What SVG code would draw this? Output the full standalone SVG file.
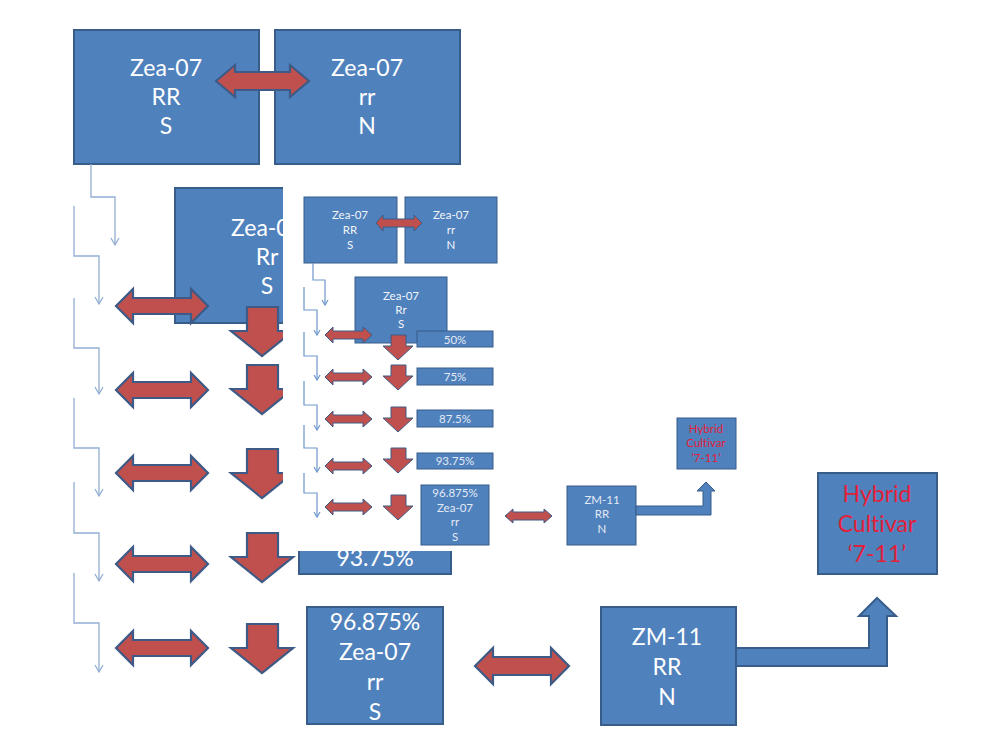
<svg xmlns="http://www.w3.org/2000/svg" width="1000" height="749" viewBox="0 0 1000 749">
<style>
.box{fill:#4F81BD;stroke:#385D8A;stroke-width:2}
.sbox{fill:#4F81BD;stroke:#385D8A;stroke-width:1}
.red{fill:#C0504D;stroke:#3E5A86;stroke-width:2.2;stroke-linejoin:miter}
.sred{fill:#C0504D;stroke:#3E5A86;stroke-width:1}
.blue{fill:#4F81BD;stroke:#385D8A;stroke-width:2}
.sblue{fill:#4F81BD;stroke:#385D8A;stroke-width:1}
text{font-variant-ligatures:none}
.t{font-family:Lato,"Open Sans","Liberation Sans",sans-serif;fill:#FFFFFF;text-anchor:middle;font-size:23px}
.st{font-family:Lato,"Open Sans","Liberation Sans",sans-serif;fill:#F2F5FA;text-anchor:middle;font-size:11.5px}
.pt{font-family:Lato,"Open Sans","Liberation Sans",sans-serif;fill:#E3EAF5;text-anchor:middle;font-size:11.5px}
.hy{fill:#E3203A}
.ln{fill:none;stroke:#93AED3;stroke-width:1.3;marker-end:url(#oa)}
.sln{fill:none;stroke:#6F97CC;stroke-width:1.2;marker-end:url(#soa)}
</style>
<defs>
<marker id="oa" markerWidth="10" markerHeight="10" refX="8" refY="5" orient="auto" markerUnits="userSpaceOnUse">
<path d="M1,1 L8,5 L1,9" fill="none" stroke="#93AED3" stroke-width="1.3"/>
</marker>
<marker id="soa" markerWidth="8" markerHeight="8" refX="6" refY="4" orient="auto" markerUnits="userSpaceOnUse">
<path d="M1,1 L6,4 L1,7" fill="none" stroke="#6F97CC" stroke-width="1.2"/>
</marker>
<path id="bdbl" d="M0,0 L17,-17 L17,-8 L75,-8 L75,-17 L92,0 L75,17 L75,8 L17,8 L17,17 Z"/>
<path id="bdown" d="M-15,0 H16 V24 H31 L0,49 L-31,24 H-15 Z"/>
<path id="sdbl" d="M0,0 L8,-8 L8,-4 L38,-4 L38,-8 L47,0 L38,8 L38,4 L8,4 L8,8 Z"/>
<path id="sdown" d="M-7,0 H8 V11 H15 L0,25 L-15,11 H-7 Z"/>
</defs>
<rect width="1000" height="749" fill="#FFFFFF"/>

<!-- Large diagram -->
<g id="big-parent-RR">
<rect class="box" x="74" y="30" width="185" height="134"/>
<text class="t" x="166" y="76">Zea-07</text>
<text class="t" x="166" y="105">RR</text>
<text class="t" x="166" y="134">S</text>
</g>
<g id="big-parent-rr">
<rect class="box" x="275" y="30" width="185" height="134"/>
<text class="t" x="367" y="76">Zea-07</text>
<text class="t" x="367" y="105">rr</text>
<text class="t" x="367" y="134">N</text>
</g>
<g id="big-F1-Rr">
<rect class="box" x="175" y="188" width="185" height="135"/>
<text class="t" x="267" y="236">Zea-07</text>
<text class="t" x="267" y="265">Rr</text>
<text class="t" x="267" y="294">S</text>
</g>
<g id="big-93">
<rect class="box" x="299" y="540" width="152" height="34"/>
<text class="t" x="375" y="566">93.75%</text>
</g>
<g id="big-96">
<rect class="box" x="307" y="607" width="136" height="117"/>
<text class="t" x="375" y="630">96.875%</text>
<text class="t" x="375" y="660">Zea-07</text>
<text class="t" x="375" y="690">rr</text>
<text class="t" x="375" y="720">S</text>
</g>
<g id="big-ZM11">
<rect class="box" x="601" y="607" width="135" height="118"/>
<text class="t" x="667" y="645">ZM-11</text>
<text class="t" x="667" y="675">RR</text>
<text class="t" x="667" y="705">N</text>
</g>
<g id="big-hybrid">
<rect class="box" x="818" y="473" width="119" height="101"/>
<text class="t hy" x="877" y="502">Hybrid</text>
<text class="t hy" x="877" y="532">Cultivar</text>
<text class="t hy" x="877" y="562">‘7-11’</text>
</g>

<g id="big-connectors">
<path class="red" d="M216,81 L235,65 L235,72 L290,72 L290,65 L309,81 L290,97 L290,90 L235,90 L235,97 Z"/>
<path class="ln" d="M91,164 V197 H115 V245"/>
<path class="ln" d="M74,206 V256 H99 V304"/>
<path class="ln" d="M74,298 V348 H99 V394"/>
<path class="ln" d="M74,398 V448 H99 V496"/>
<path class="ln" d="M74,482 V533 H99 V581"/>
<path class="ln" d="M74,573 V623 H99 V672"/>
<use href="#bdbl" class="red" x="116" y="306"/>
<use href="#bdbl" class="red" x="116" y="390"/>
<use href="#bdbl" class="red" x="116" y="473"/>
<use href="#bdbl" class="red" x="116" y="564"/>
<use href="#bdbl" class="red" x="116" y="648"/>
<use href="#bdown" class="red" x="262" y="307"/>
<use href="#bdown" class="red" x="262" y="365"/>
<use href="#bdown" class="red" x="262" y="449"/>
<use href="#bdown" class="red" x="262" y="533"/>
<use href="#bdown" class="red" x="262" y="624"/>
<path class="red" d="M475,666 L493,648 L493,657 L551,657 L551,648 L569,666 L551,684 L551,675 L493,675 L493,684 Z"/>
<path class="blue" d="M736,648 H869 V616 H859 L877,598 L896,616 H887 V666 H736 Z"/>
</g>

<!-- White overlay holding the small copy -->
<rect id="overlay" x="283" y="172" width="480" height="379" fill="#FFFFFF"/>

<!-- Small diagram -->
<g id="small-parent-RR">
<rect class="sbox" x="304" y="197" width="93" height="66"/>
<text class="st" x="350" y="219">Zea-07</text>
<text class="st" x="350" y="234">RR</text>
<text class="st" x="350" y="249">S</text>
</g>
<g id="small-parent-rr">
<rect class="sbox" x="405" y="197" width="92" height="66"/>
<text class="st" x="451" y="219">Zea-07</text>
<text class="st" x="451" y="234">rr</text>
<text class="st" x="451" y="249">N</text>
</g>
<g id="small-F1-Rr">
<rect class="sbox" x="355" y="277" width="92" height="66"/>
<text class="st" x="401" y="300">Zea-07</text>
<text class="st" x="401" y="314">Rr</text>
<text class="st" x="401" y="328">S</text>
</g>
<g id="small-50">
<rect class="sbox" x="417" y="331" width="76" height="16"/>
<text class="pt" x="455" y="343.5">50%</text>
</g>
<g id="small-75">
<rect class="sbox" x="417" y="368" width="76" height="17"/>
<text class="pt" x="455" y="380.5">75%</text>
</g>
<g id="small-87">
<rect class="sbox" x="417" y="410" width="76" height="17"/>
<text class="pt" x="455" y="422.5">87.5%</text>
</g>
<g id="small-93">
<rect class="sbox" x="417" y="453" width="76" height="16"/>
<text class="pt" x="455" y="465">93.75%</text>
</g>
<g id="small-96">
<rect class="sbox" x="421" y="485" width="68" height="60"/>
<text class="pt" x="455" y="497">96.875%</text>
<text class="pt" x="455" y="512">Zea-07</text>
<text class="pt" x="455" y="526">rr</text>
<text class="pt" x="455" y="541">S</text>
</g>
<g id="small-ZM11">
<rect class="sbox" x="567" y="486" width="69" height="59"/>
<text class="pt" x="602" y="504">ZM-11</text>
<text class="pt" x="602" y="518">RR</text>
<text class="pt" x="602" y="533">N</text>
</g>
<g id="small-hybrid">
<rect class="sbox" x="677" y="418" width="59" height="51"/>
<text class="pt hy" x="706" y="433">Hybrid</text>
<text class="pt hy" x="706" y="447">Cultivar</text>
<text class="pt hy" x="706" y="462">‘7-11’</text>
</g>

<g id="small-connectors">
<path class="sred" d="M376,223 L383,215 L383,219 L414,219 L414,215 L422,223 L414,231 L414,227 L383,227 L383,231 Z"/>
<path class="sln" d="M313,263 V280 H325 V305"/>
<path class="sln" d="M304,287 V310 H317 V335"/>
<path class="sln" d="M304,332 V356 H317 V380"/>
<path class="sln" d="M304,381 V405 H317 V430"/>
<path class="sln" d="M304,425 V448 H317 V472"/>
<path class="sln" d="M304,473 V493 H317 V517"/>
<use href="#sdbl" class="sred" x="325" y="335"/>
<use href="#sdbl" class="sred" x="325" y="377"/>
<use href="#sdbl" class="sred" x="325" y="419"/>
<use href="#sdbl" class="sred" x="325" y="466"/>
<use href="#sdbl" class="sred" x="325" y="507"/>
<use href="#sdown" class="sred" x="398" y="335"/>
<use href="#sdown" class="sred" x="398" y="365"/>
<use href="#sdown" class="sred" x="398" y="407"/>
<use href="#sdown" class="sred" x="398" y="448"/>
<use href="#sdown" class="sred" x="398" y="495"/>
<path class="sred" d="M505,516 L513,509 L513,512 L544,512 L544,509 L552,516 L544,523 L544,520 L513,520 L513,523 Z"/>
<path class="sblue" d="M636,506 H703 V491 H697 L706,482 L715,491 H711 V515 H636 Z"/>
</g>
</svg>
